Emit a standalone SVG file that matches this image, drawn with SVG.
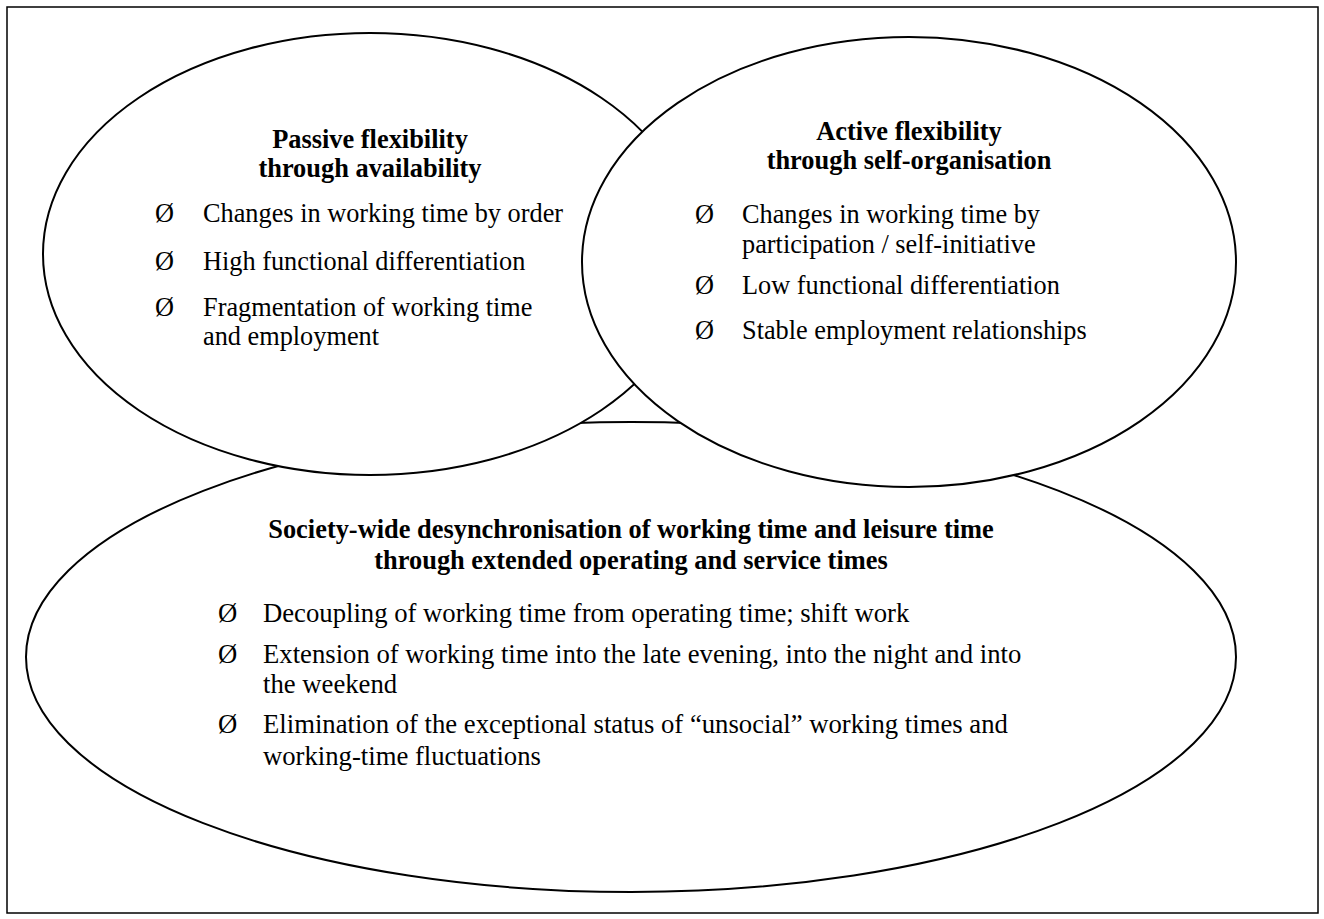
<svg xmlns="http://www.w3.org/2000/svg" width="1324" height="919" viewBox="0 0 1324 919">
  <style>
    .frame { fill: none; stroke: #000; stroke-width: 1.5; }
    .oval { fill: #fff; stroke: #000; stroke-width: 2; }
    text { font-family: "Liberation Serif", "Times New Roman", serif; fill: #000; }
    .title { font-size: 26.4px; font-weight: bold; text-anchor: middle; }
    .item { font-size: 26.3px; }
    .wide { font-size: 26.7px; }
  </style>
  <rect width="1324" height="919" fill="#fff"/>
  <rect class="frame" x="7" y="7" width="1311" height="906"/>

  <!-- society-wide desynchronisation (drawn first, sits behind the two upper ovals) -->
  <g id="desynchronisation">
    <ellipse class="oval" cx="631" cy="657" rx="605" ry="235"/>
    <text class="title" x="631" y="538">Society-wide desynchronisation of working time and leisure time</text>
    <text class="title" x="631" y="569">through extended operating and service times</text>
    <text class="wide" x="218" y="622">Ø</text>
    <text class="wide" x="263" y="622">Decoupling of working time from operating time; shift work</text>
    <text class="wide" x="218" y="663">Ø</text>
    <text class="wide" x="263" y="663">Extension of working time into the late evening, into the night and into</text>
    <text class="wide" x="263" y="693">the weekend</text>
    <text class="wide" x="218" y="733">Ø</text>
    <text class="wide" x="263" y="733">Elimination of the exceptional status of “unsocial” working times and</text>
    <text class="wide" x="263" y="765">working-time fluctuations</text>
  </g>

  <!-- passive flexibility -->
  <g id="passive-flexibility">
    <ellipse class="oval" cx="370" cy="254" rx="327" ry="221"/>
    <text class="title" x="370" y="148">Passive flexibility</text>
    <text class="title" x="370" y="177">through availability</text>
    <text class="item" x="155" y="222">Ø</text>
    <text class="item" x="203" y="222">Changes in working time by order</text>
    <text class="item" x="155" y="270">Ø</text>
    <text class="item" x="203" y="270">High functional differentiation</text>
    <text class="item" x="155" y="316">Ø</text>
    <text class="item" x="203" y="316">Fragmentation of working time</text>
    <text class="item" x="203" y="345">and employment</text>
  </g>

  <!-- active flexibility -->
  <g id="active-flexibility">
    <ellipse class="oval" cx="909" cy="262" rx="327" ry="225"/>
    <text class="title" x="909" y="140">Active flexibility</text>
    <text class="title" x="909" y="169">through self-organisation</text>
    <text class="item" x="695" y="223">Ø</text>
    <text class="item" x="742" y="223">Changes in working time by</text>
    <text class="item" x="742" y="253">participation / self-initiative</text>
    <text class="item" x="695" y="294">Ø</text>
    <text class="item" x="742" y="294">Low functional differentiation</text>
    <text class="item" x="695" y="339">Ø</text>
    <text class="item" x="742" y="339">Stable employment relationships</text>
  </g>
</svg>
